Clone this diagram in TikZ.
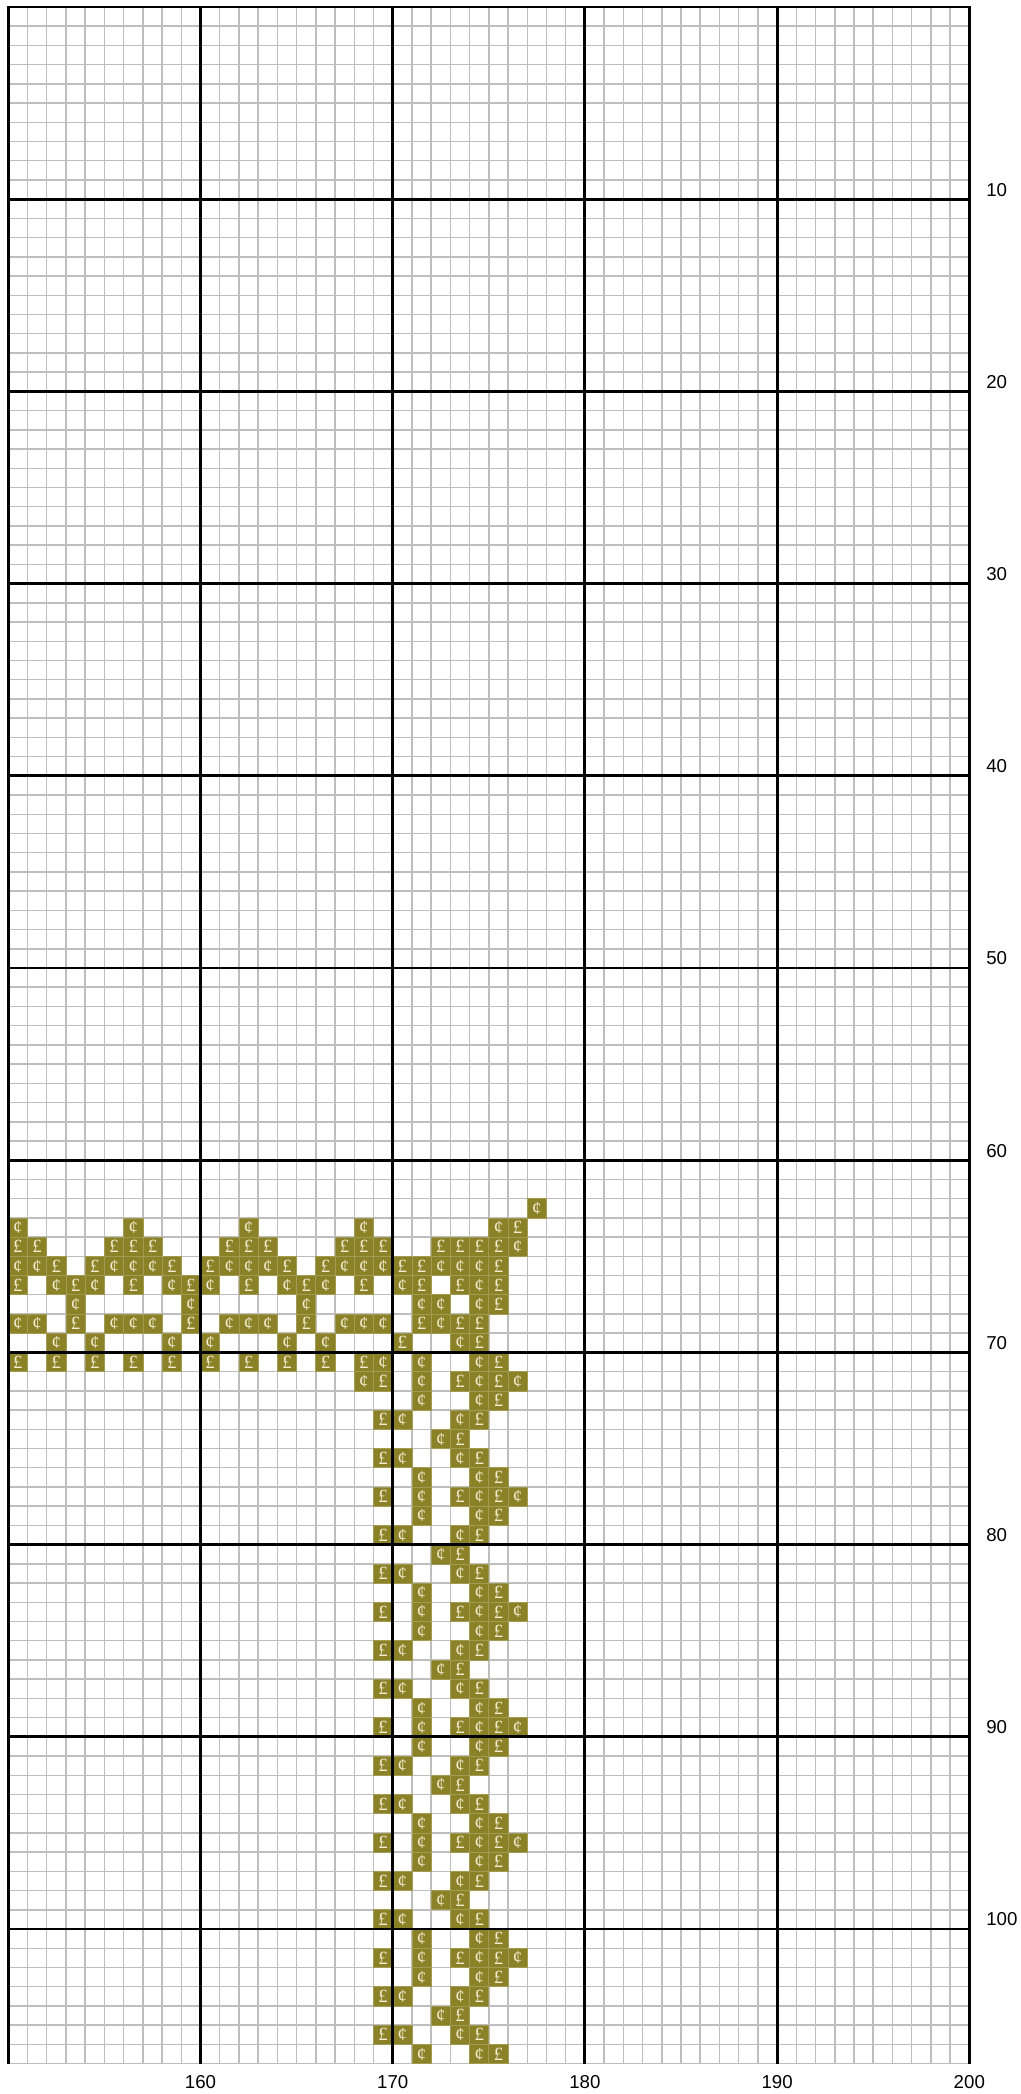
\documentclass[tikz,border=0pt]{standalone}
\usepackage{fontspec}
\setsansfont{Liberation Sans}
\newfontfamily\symfont{Liberation Serif}
\usepackage{xcolor}
\definecolor{stitch}{RGB}{139,130,40}
\definecolor{symcol}{RGB}{242,236,208}
\definecolor{fine}{RGB}{190,190,190}
\newcommand{\symp}{£}
\newcommand{\symc}{¢}
% one stitch: column, row, symbol (p or c)
\newcommand{\stitch}[3]{%
  \path[cell] (#1,#2) rectangle ++(1,1);
  \node[sym] (s-#1-#2) at (#1+0.5,#2+0.5) {\csname sym#3\endcsname};}

\begin{document}
\begin{tikzpicture}[x=14.415pt, y=-14.415pt,
        fineline/.style={draw=fine, line width=1.1pt},
        majorline/.style={draw=black, line width=2.2pt},
        cell/.style={fill=stitch, draw=stitch!80!white, line width=0.5pt},
        sym/.style={inner sep=0pt, text=symcol, font=\symfont\fontsize{14}{14}\selectfont},
        lab/.style={inner sep=0pt, font=\sffamily\fontsize{14}{16}\selectfont}
    ]
        \useasboundingbox (-0.432,-0.364) rectangle (52.638,108.585);
        \fill[white] (-0.432,-0.364) rectangle (52.638,108.585);

        % Rejilla fina
        \foreach \i in {0,...,50} \draw[fineline] (\i,0) -- (\i,107);
        \foreach \j in {0,...,107} \draw[fineline] (0,\j) -- (50,\j);

        % Banda horizontal
        \foreach \r/\row in {
            62/{27/c},
            63/{0/c,6/c,12/c,18/c,25/c,26/p},
            64/{0/p,1/p,5/p,6/p,7/p,11/p,12/p,13/p,17/p,18/p,19/p,22/p,23/p,24/p,25/p,26/c},
            65/{0/c,1/c,2/p,4/p,5/c,6/c,7/c,8/p,10/p,11/c,12/c,13/c,14/p,16/p,17/c,18/c,19/c,20/p,21/p,22/c,23/c,24/c,25/p},
            66/{0/p,2/c,3/p,4/c,6/p,8/c,9/p,10/c,12/p,14/c,15/p,16/c,18/p,20/c,21/p,23/p,24/c,25/p},
            67/{3/c,9/c,15/c,21/c,22/c,24/c,25/p},
            68/{0/c,1/c,3/p,5/c,6/c,7/c,9/p,11/c,12/c,13/c,15/p,17/c,18/c,19/c,21/p,22/c,23/p,24/p},
            69/{2/c,4/c,8/c,10/c,14/c,16/c,20/p,23/c,24/p},
            70/{0/p,2/p,4/p,6/p,8/p,10/p,12/p,14/p,16/p,18/p,19/c,21/c,24/c,25/p},
            71/{18/c,19/p,21/c,23/p,24/c,25/p,26/c}}
            \foreach \c/\s in \row {\stitch{\c}{\r}{\s}}

        % Columna vertical (se repite cada 6 filas)
        \foreach \r in {72,76,78,82,84,88,90,94,96,100,102,106}
            \foreach \c/\s in {21/c,24/c,25/p} {\stitch{\c}{\r}{\s}}
        \foreach \r in {73,75,79,81,85,87,91,93,97,99,103,105}
            \foreach \c/\s in {19/p,20/c,23/c,24/p} {\stitch{\c}{\r}{\s}}
        \foreach \r in {74,80,86,92,98,104}
            \foreach \c/\s in {22/c,23/p} {\stitch{\c}{\r}{\s}}
        \foreach \r in {77,83,89,95,101}
            \foreach \c/\s in {19/p,21/c,23/p,24/c,25/p,26/c} {\stitch{\c}{\r}{\s}}

        % Lineas cada 10
        \draw[majorline] (0,107) -- (0,0) -- (50,0) -- (50,107);
        \foreach \i in {10,20,...,40} \draw[majorline] (\i,0) -- (\i,107);
        \foreach \j in {10,20,...,100} \draw[majorline] (0,\j) -- (50,\j);

        % Etiquetas
        \foreach \j in {10,20,...,100}
            \node[lab, anchor=base west] (row\j) at (50.87,\j-0.16) {\j};
        \foreach \i in {10,20,...,50} {
            \pgfmathtruncatemacro\n{150+\i}
            \node[lab, anchor=base] (col\n) at (\i,108.32) {\n};
        }
    \end{tikzpicture}
\end{document}
